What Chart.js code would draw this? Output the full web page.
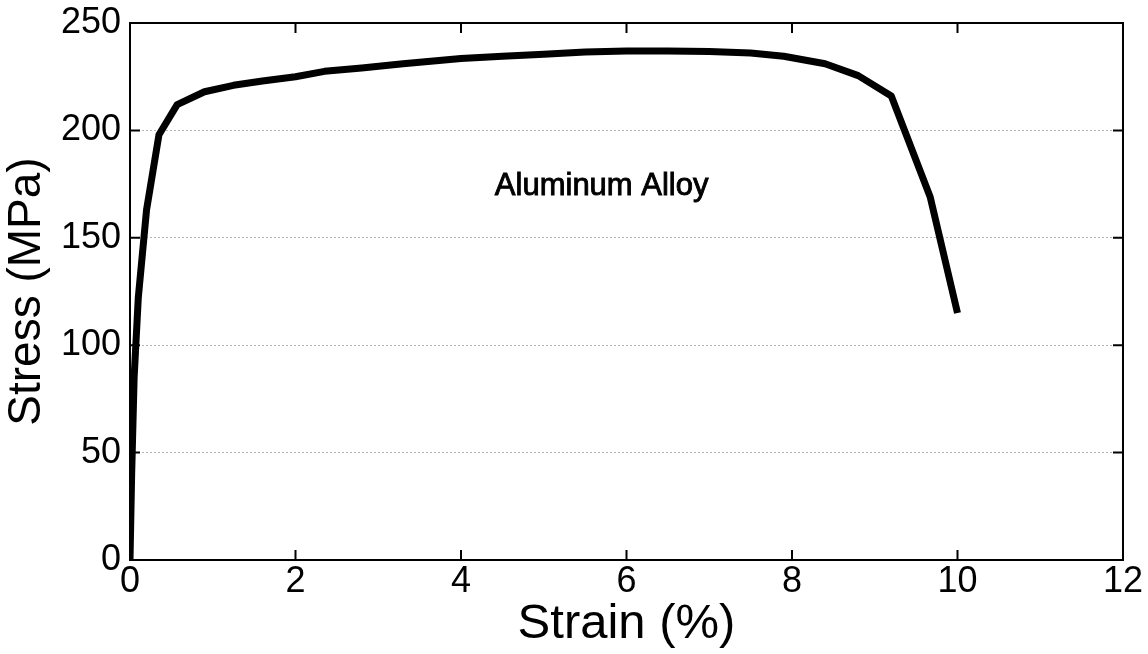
<!DOCTYPE html>
<html>
<head>
<meta charset="utf-8">
<script src="https://cdn.jsdelivr.net/npm/chart.js@4"></script>
<style>
  html, body { margin: 0; padding: 0; background: #fff; }
  #wrap { width: 1148px; height: 654px; }
</style>
</head>
<body>
<div id="wrap"><canvas id="graf"></canvas></div>
<script>
// datos
const strainPct = [0, 0.02, 0.05, 0.1, 0.2, 0.35, 0.57, 0.9, 1.25, 1.6, 2.0, 2.35, 2.8, 3.3, 4.0, 4.5, 5.0, 5.5, 6.0, 6.5, 7.0, 7.5, 7.9, 8.4, 8.8, 9.2, 9.67, 10.0];
const stressMPa = [0, 40, 85, 122, 163, 198, 212, 218, 221, 223, 225, 227.5, 229, 231, 233.5, 234.5, 235.5, 236.5, 237, 237, 236.7, 236, 234.5, 231, 225.5, 216, 169, 115];
const xTicks = [0, 2, 4, 6, 8, 10, 12];
const yTicks = [0, 50, 100, 150, 200, 250];
const etiqueta = "Aluminum Alloy";
const etiquetaPos = [5.7, 174];

const fuente = "'Liberation Sans', Arial, Helvetica, sans-serif";

// marco y marcas hacia dentro, en los cuatro lados
const marcoPlugin = {
  id: 'marco',
  afterDraw(chart) {
    const ctx = chart.ctx, a = chart.chartArea;
    const sx = chart.scales.x, sy = chart.scales.y;
    const L = 10;
    ctx.save();
    ctx.strokeStyle = '#000';
    ctx.lineWidth = 2;
    ctx.beginPath();
    xTicks.forEach(v => {
      const px = sx.getPixelForValue(v);
      ctx.moveTo(px, a.bottom); ctx.lineTo(px, a.bottom - L);
      ctx.moveTo(px, a.top); ctx.lineTo(px, a.top + L);
    });
    yTicks.forEach(v => {
      const py = sy.getPixelForValue(v);
      ctx.moveTo(a.left, py); ctx.lineTo(a.left + L, py);
      ctx.moveTo(a.right, py); ctx.lineTo(a.right - L, py);
    });
    ctx.stroke();
    ctx.strokeRect(a.left, a.top, a.right - a.left, a.bottom - a.top);

    // texto dentro del gráfico
    ctx.fillStyle = '#000';
    ctx.font = "31px " + fuente;
    ctx.textAlign = 'center';
    ctx.textBaseline = 'middle';
    const tx = sx.getPixelForValue(etiquetaPos[0]), ty = sy.getPixelForValue(etiquetaPos[1]);
    ctx.fillText(etiqueta, tx, ty);
    ctx.lineWidth = 0.9;
    ctx.strokeText(etiqueta, tx, ty);
    ctx.restore();
  }
};

const Conf = {
  type: 'scatter',
  data: {
    datasets: [{
      data: strainPct.map((x, i) => ({ x, y: stressMPa[i] })),
      showLine: true,
      borderColor: '#000',
      borderWidth: 7,
      pointRadius: 0,
      tension: 0,
      borderJoinStyle: 'round',
      borderCapStyle: 'butt'
    }]
  },
  plugins: [marcoPlugin],
  options: {
    responsive: false,
    animation: false,
    layout: { padding: { left: 0, right: 25, top: 23, bottom: 0 } },
    plugins: { legend: { display: false }, tooltip: { enabled: false } },
    scales: {
      x: {
        type: 'linear', min: 0, max: 12,
        afterBuildTicks: s => { s.ticks = xTicks.map(v => ({ value: v })); },
        afterFit: s => { s.height = 94; s.paddingLeft = 0; s.paddingRight = 0; },
        grid: { display: false, drawTicks: false },
        border: { display: false },
        ticks: { color: '#000', font: { family: fuente, size: 36 }, padding: 0, maxRotation: 0 },
        title: { display: true, text: 'Strain (%)', color: '#000', font: { family: fuente, size: 49 }, padding: 0 }
      },
      y: {
        min: 0, max: 250,
        afterBuildTicks: s => { s.ticks = yTicks.map(v => ({ value: v })); },
        afterFit: s => { s.width = 130; s.paddingTop = 0; s.paddingBottom = 0; },
        grid: {
          drawTicks: false,
          color: c => (c.tick && (c.tick.value === 0 || c.tick.value === 250)) ? 'rgba(0,0,0,0)' : '#b4b4b4',
          lineWidth: 1
        },
        border: { display: false, dash: [2, 2] },
        ticks: { color: '#000', font: { family: fuente, size: 36 }, padding: 9 },
        title: { display: true, text: 'Stress (MPa)', color: '#000', font: { family: fuente, size: 46 }, padding: 0 }
      }
    }
  }
};

const cv = document.getElementById('graf');
cv.width = 1148; cv.height = 654;
window.Graf = new Chart(cv, Conf);
</script>
</body>
</html>
